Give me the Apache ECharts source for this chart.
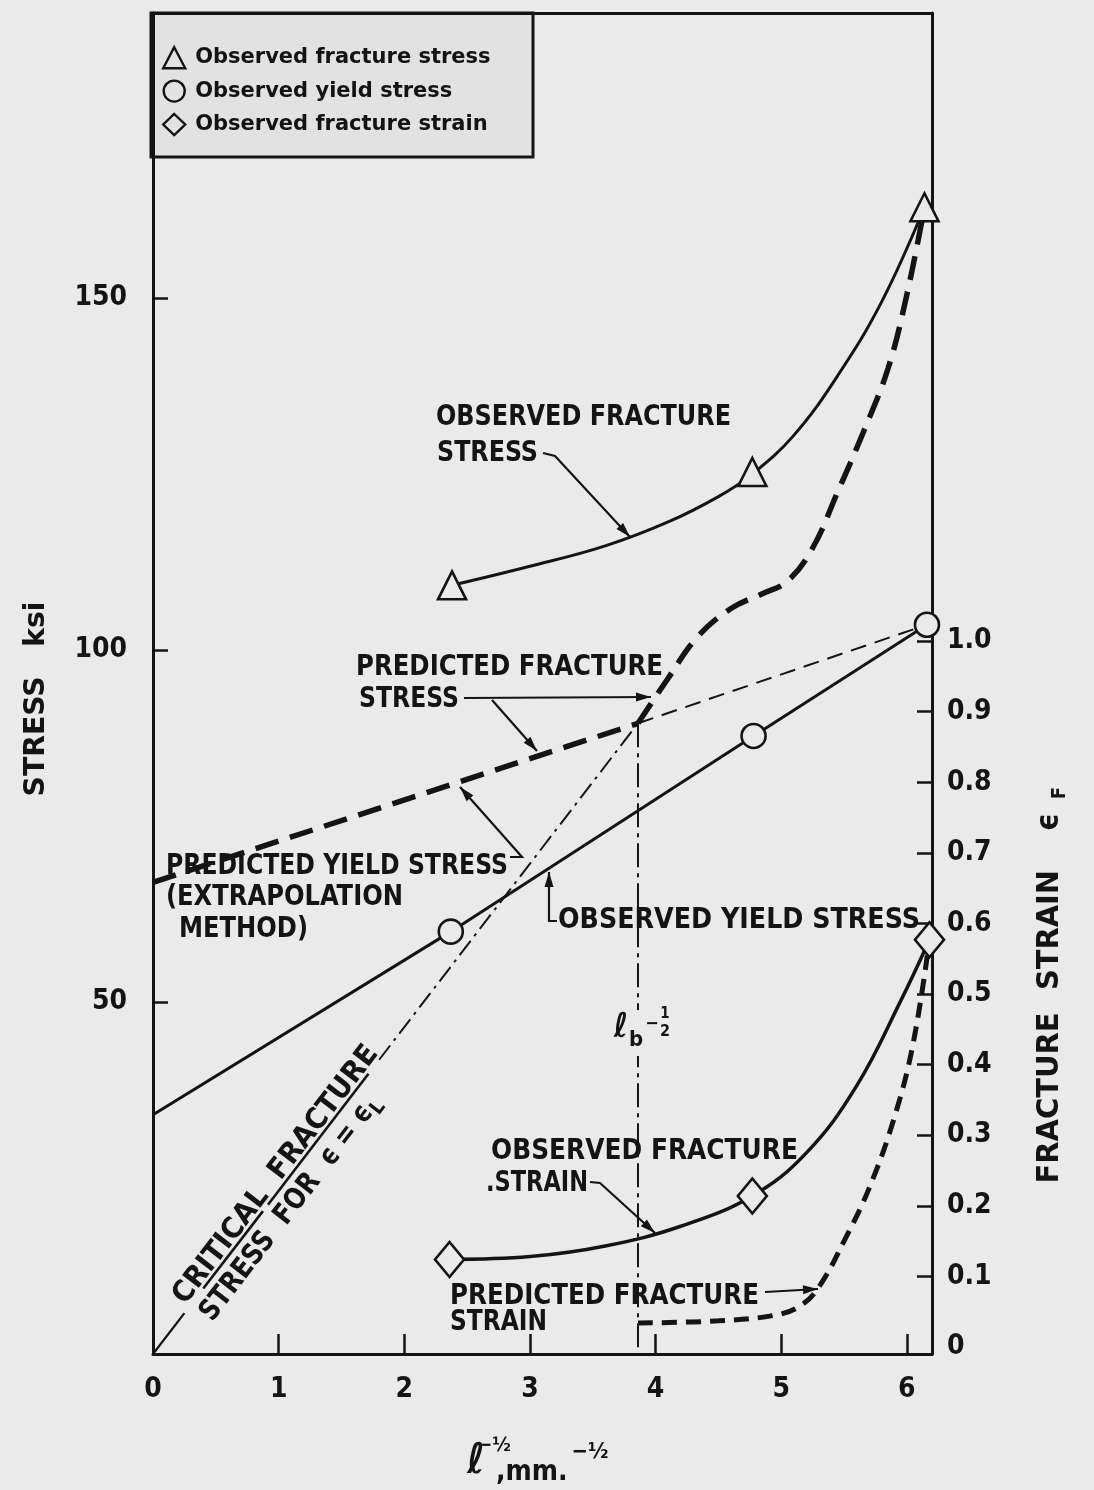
<!DOCTYPE html>
<html><head><meta charset="utf-8">
<script src="https://cdn.jsdelivr.net/npm/echarts@6/dist/echarts.min.js"></script>
<style>html,body{margin:0;padding:0;background:#eaeaea;}#c{width:1094px;height:1490px;}</style>
</head><body><div id="c"></div>
<script>
// ---------- data ----------
const xTickValues = [1, 2, 3, 4, 5, 6];
const xLabelValues = [0, 1, 2, 3, 4, 5, 6];
const stressTickValues = [50, 100, 150];
const strainLabelValues = [0, 0.1, 0.2, 0.3, 0.4, 0.5, 0.6, 0.7, 0.8, 0.9, 1.0];
const strainTickValues = [0.1, 0.2, 0.3, 0.4, 0.5, 0.6, 0.7, 0.8, 0.9, 1.0];

const obsFractureStressPts = [[2.38, 109.2], [4.77, 125.3], [6.14, 162.9]];
const obsFractureStressCurve = [[2.38, 109.2], [3.0, 111.9], [3.6, 114.8], [4.1, 118.2], [4.5, 121.8], [4.77, 125.0], [5.1, 130.5], [5.45, 139.0], [5.8, 149.5], [6.14, 162.9]];

const obsYieldPts = [[2.37, 60.0], [4.78, 87.8], [6.16, 103.6]];
const obsYieldLine = [[0, 34.0], [2.37, 60.0], [4.78, 87.8], [6.16, 103.6]];

const predYieldThick = [[0, 67.0], [3.86, 89.6]];
const predYieldThin = [[3.86, 89.6], [6.16, 103.6]];
const predFractureStress = [[3.86, 89.6], [4.1, 96.0], [4.33, 101.8], [4.6, 105.9], [4.85, 108.0], [5.05, 109.8], [5.25, 114.5], [5.45, 122.5], [5.65, 130.8], [5.85, 140.0], [6.0, 150.5], [6.14, 162.9]];

const criticalLeadIn = [[0, 0], [0.25, 5.8]];
const criticalUnderline1 = [[0.40, 9.3], [0.875, 20.3]];
const criticalUnderline2 = [[0.915, 21.2], [1.715, 39.8]];
const criticalDashDot = [[1.80, 41.8], [3.86, 89.6]];
const lbLine = [[3.86, 89.6], [3.86, 0]];

const obsFractureStrainPts = [[2.36, 0.124], [4.77, 0.214], [6.18, 0.577]];
const obsFractureStrainCurve = [[2.36, 0.124], [3.0, 0.128], [3.6, 0.143], [4.2, 0.171], [4.77, 0.214], [5.2, 0.275], [5.6, 0.37], [5.95, 0.49], [6.18, 0.577]];
const predFractureStrain = [[3.86, 0.034], [4.5, 0.037], [4.95, 0.045], [5.15, 0.058], [5.3, 0.085], [5.5, 0.15], [5.7, 0.225], [5.9, 0.325], [6.05, 0.43], [6.18, 0.577]];

// ---------- styles ----------
const BG = '#eaeaea', INK = '#141414';
const COND = '"DejaVu Sans Condensed", "DejaVu Sans", sans-serif';
const cv = document.createElement('canvas').getContext('2d');
function measure(t, size) { cv.font = 'bold ' + size + 'px ' + COND; return cv.measureText(t).width; }

function line(name, data, lineStyle, opts) {
  return Object.assign({
    type: 'line', name: name, data: data, symbol: 'none', silent: true,
    lineStyle: Object.assign({ color: INK, opacity: 1 }, lineStyle), z: 3, animation: false
  }, opts || {});
}
const THICK_DASH = { width: 5.5, type: [24, 12], cap: 'butt' };
const FS_DASH = { width: 5, type: [15, 9], cap: 'butt' };
const THIN_DASH = { width: 2, type: [16, 9] };
const DASH_DOT = { width: 2, type: [18, 6, 3, 6] };

const MARK = { color: BG, borderColor: INK, borderWidth: 2.6, opacity: 1 };
const series = [
  line('obsFS', obsFractureStressCurve, { width: 3 }, { smooth: 0.4 }),
  line('predYthick', predYieldThick, THICK_DASH),
  line('predYthin', predYieldThin, THIN_DASH),
  line('predFS', predFractureStress, THICK_DASH, { smooth: 0.4 }),
  line('crit0', criticalLeadIn, { width: 2.2 }),
  line('crit1', criticalUnderline1, { width: 2.6 }),
  line('crit2', criticalUnderline2, { width: 2.6 }),
  line('crit3', criticalDashDot, DASH_DOT),
  line('lb', lbLine, { width: 2, type: [24, 6, 4, 6] }),
  line('obsY', obsYieldLine, { width: 3 }),
  line('obsFStrain', obsFractureStrainCurve, { width: 3.5 }, { yAxisIndex: 1, smooth: 0.4 }),
  line('predFStrain', predFractureStrain, FS_DASH, { yAxisIndex: 1, smooth: 0.4 }),
  { type: 'scatter', name: 'Observed fracture stress', data: obsFractureStressPts, symbol: 'triangle', symbolSize: 28,
    itemStyle: MARK, z: 10, silent: true, animation: false },
  { type: 'scatter', name: 'Observed yield stress', data: obsYieldPts, symbol: 'circle', symbolSize: 24,
    itemStyle: MARK, z: 10, silent: true, animation: false },
  { type: 'scatter', name: 'Observed fracture strain', data: obsFractureStrainPts, yAxisIndex: 1, symbol: 'diamond', symbolSize: [29, 35],
    itemStyle: MARK, z: 10, silent: true, animation: false }
];

const axisLabelFont = { fontFamily: COND, fontWeight: 'bold', fontSize: 28, color: INK };

// ---------- annotations ----------
const graphics = [];
graphics.push({ type: 'rect', shape: { x: 151, y: 13, width: 382, height: 144 },
  style: { fill: 'rgba(0,0,0,0.03)', stroke: INK, lineWidth: 3 }, z: 5 });

const labels = [
  ['OBSERVED FRACTURE', 436, 417, 295],
  ['STRESS', 437, 453, 101],
  ['PREDICTED FRACTURE', 356, 667, 307],
  ['STRESS', 359, 699, 100],
  ['PREDICTED YIELD STRESS', 166, 866, 342],
  ['(EXTRAPOLATION', 166, 897, 237],
  ['METHOD)', 179, 929, 129],
  ['OBSERVED YIELD STRESS', 558, 920, 362],
  ['OBSERVED FRACTURE', 491, 1151, 307],
  ['.STRAIN', 486, 1183, 102],
  ['PREDICTED FRACTURE', 450, 1296, 309],
  ['STRAIN', 450, 1322, 97]
];
const LS = 29;
labels.forEach(function (l) {
  const sx = l[3] / measure(l[0], LS);
  graphics.push({ type: 'text', x: l[1], y: l[2], scaleX: sx, z: 20,
    style: { text: l[0], x: 0, y: 0, font: 'bold ' + LS + 'px ' + COND, fill: INK,
      align: 'left', verticalAlign: 'middle', textAlign: 'left', textVerticalAlign: 'middle' } });
});

function leader(pts) {
  graphics.push({ type: 'polyline', shape: { points: pts }, style: { stroke: INK, lineWidth: 2.2, fill: null }, z: 20 });
  const a = pts[pts.length - 2], b = pts[pts.length - 1];
  const dx = b[0] - a[0], dy = b[1] - a[1], L = Math.hypot(dx, dy);
  const ux = dx / L, uy = dy / L, nx = -uy, ny = ux, hl = 15, hw = 4.5;
  graphics.push({ type: 'polygon', shape: { points: [[b[0], b[1]],
    [b[0] - ux * hl + nx * hw, b[1] - uy * hl + ny * hw], [b[0] - ux * hl - nx * hw, b[1] - uy * hl - ny * hw]] },
    style: { fill: INK }, z: 20 });
}
leader([[543, 453], [555, 456], [630, 537]]);
leader([[464, 698], [651, 697]]);
leader([[492, 700], [537, 751]]);
leader([[510, 857], [522, 857], [460, 787]]);
leader([[557, 921], [549, 921], [549, 872]]);
leader([[590, 1182], [600, 1183], [655, 1233]]);
leader([[765, 1292], [818, 1289]]);

// critical fracture stress rotated labels
const ang = Math.atan(1.30);
function rtext(t, cx, cy, size, w) {
  const sx = w ? w / measure(t, size) : 1;
  graphics.push({ type: 'text', x: cx, y: cy, rotation: ang, scaleX: sx, z: 20,
    style: { text: t, x: 0, y: 0, font: 'bold ' + size + 'px ' + COND, fill: INK,
      align: 'center', verticalAlign: 'middle', textAlign: 'center', textVerticalAlign: 'middle' } });
}
rtext('CRITICAL  FRACTURE', 276, 1175, 29, 318);
rtext('STRESS  FOR  \u03F5 = \u03F5', 287, 1213, 29, 265);
graphics.push({ type: 'text', x: 378, y: 1108, rotation: ang, z: 20,
  style: { text: 'L', x: 0, y: 0, font: 'bold 20px ' + COND, fill: INK, align: 'center', verticalAlign: 'middle' } });

// l_b^-1/2 label
graphics.push({ type: 'rect', shape: { x: 628, y: 1010, width: 16, height: 46 }, style: { fill: BG }, z: 15 });
function t(txt, x, y, size, opts) {
  graphics.push(Object.assign({ type: 'text', x: x, y: y, z: 20,
    style: { text: txt, x: 0, y: 0, font: 'bold ' + size + 'px ' + COND, fill: INK, align: 'center', verticalAlign: 'middle' } }, opts || {}));
}
t('\u2113', 621, 1028, 34);
t('b', 636, 1040, 22);
t('\u2212', 652, 1024, 18);
t('1', 665, 1014, 15);
t('2', 665, 1032, 16);

// x axis title
t('\u2113', 476, 1462, 42);
t('\u2212\u00BD', 494, 1446, 20);
graphics.push({ type: 'text', x: 496, y: 1473, z: 20,
  style: { text: ',mm.', x: 0, y: 0, font: 'bold 28px ' + COND, fill: INK, align: 'left', verticalAlign: 'middle' } });
t('\u2212\u00BD', 590, 1452, 22);

// y axis titles
function vtext(txt, cx, cy, size, w) {
  const sx = w ? w / measure(txt, size) : 1;
  graphics.push({ type: 'text', x: cx, y: cy, rotation: Math.PI / 2, scaleX: sx, z: 20,
    style: { text: txt, x: 0, y: 0, font: 'bold ' + size + 'px ' + COND, fill: INK, align: 'center', verticalAlign: 'middle' } });
}
vtext('STRESS   ksi', 36, 699, 29, 195);
vtext('FRACTURE', 1050, 1098, 31, 171);
vtext('STRAIN', 1050, 930, 31, 120);
vtext('\u03F5', 1050, 822, 31);
vtext('F', 1060, 793, 20);

// ---------- chart ----------
const chart = echarts.init(document.getElementById('c'), null, { renderer: 'canvas', width: 1094, height: 1490 });
const LEG = { color: BG, borderColor: INK, borderWidth: 2.4, opacity: 1 };
chart.setOption({
  backgroundColor: BG,
  animation: false,
  grid: { left: 153, right: 162, top: 13, bottom: 136, containLabel: false },
  legend: {
    data: [
      { name: 'Observed fracture stress', icon: 'triangle', itemStyle: LEG },
      { name: 'Observed yield stress', icon: 'circle', itemStyle: LEG },
      { name: 'Observed fracture strain', icon: 'diamond', itemStyle: LEG }
    ],
    orient: 'vertical', left: 162, top: 46, itemWidth: 22, itemHeight: 21, itemGap: 10,
    padding: 0, selectedMode: false,
    textStyle: { fontFamily: '"DejaVu Sans", sans-serif', fontWeight: 'bold', fontSize: 21, color: INK, padding: [0, 0, 0, 5] }
  },
  xAxis: [
    { type: 'value', min: 0, max: 6.2, position: 'bottom',
      axisLine: { show: true, onZero: false, lineStyle: { color: INK, width: 3 } },
      axisTick: { show: true, inside: true, length: 20, lineStyle: { color: INK, width: 2.5 }, customValues: xTickValues },
      axisLabel: Object.assign({ margin: 22, customValues: xLabelValues }, axisLabelFont),
      splitLine: { show: false } },
    { type: 'value', min: 0, max: 6.2, position: 'top',
      axisLine: { show: true, onZero: false, lineStyle: { color: INK, width: 3 } },
      axisTick: { show: false }, axisLabel: { show: false }, splitLine: { show: false } }
  ],
  yAxis: [
    { type: 'value', min: 0, max: 190.5, position: 'left',
      axisLine: { show: true, onZero: false, lineStyle: { color: INK, width: 3 } },
      axisTick: { show: true, inside: true, length: 15, lineStyle: { color: INK, width: 2.5 }, customValues: stressTickValues },
      axisLabel: Object.assign({ margin: 26, customValues: stressTickValues }, axisLabelFont),
      splitLine: { show: false } },
    { type: 'value', min: -0.01, max: 1.89, position: 'right',
      axisLine: { show: true, onZero: false, lineStyle: { color: INK, width: 3 } },
      axisTick: { show: true, inside: true, length: 15, lineStyle: { color: INK, width: 2.5 }, customValues: strainTickValues },
      axisLabel: Object.assign({ margin: 15, customValues: strainLabelValues,
        formatter: function (v) { return v === 0 ? '0' : v.toFixed(1); } }, axisLabelFont),
      splitLine: { show: false } }
  ],
  series: series,
  graphic: { elements: graphics }
});
</script></body></html>
